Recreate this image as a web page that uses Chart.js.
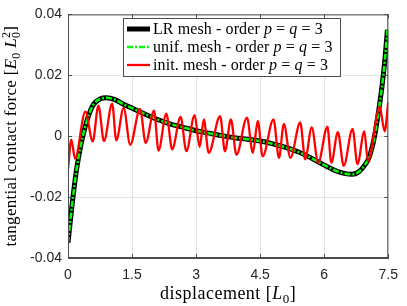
<!DOCTYPE html>
<html>
<head>
<meta charset="utf-8">
<script src="https://cdn.jsdelivr.net/npm/chart.js@4.4.1/dist/chart.umd.min.js"></script>
<style>
  html, body { margin: 0; padding: 0; background: #fff; }
</style>
</head>
<body>
<canvas id="chart" width="407" height="306"></canvas>
<script>
// tick positions and labels
const xTicks = [0, 1.5, 3, 4.5, 6, 7.5];
const xTickLabels = ['0', '1.5', '3', '4.5', '6', '7.5'];
const yTicks = [-0.04, -0.02, 0, 0.02, 0.04];
const yTickLabels = ['-0.04', '-0.02', '0', '0.02', '0.04'];

// LR mesh (smooth black curve)
const lrX = [0, 0.1, 0.2, 0.3, 0.4, 0.5, 0.6, 0.75, 0.9, 1.1, 1.3, 1.5, 1.8, 2.1, 2.4, 2.7, 3.0, 3.3, 3.6, 3.9,
             4.2, 4.5, 4.8, 5.1, 5.4, 5.7, 6.0, 6.3, 6.5, 6.65, 6.8, 6.95, 7.05, 7.15, 7.25, 7.35, 7.42, 7.48];
const lrY = [-0.035, -0.022, -0.011, -0.003, 0.003, 0.0075, 0.0105, 0.0122, 0.0126, 0.012, 0.0105, 0.0092,
             0.0073, 0.0055, 0.004, 0.0029, 0.0018, 0.001, 0.0002, -0.0005, -0.001, -0.0016, -0.0025, -0.0037,
             -0.0052, -0.0072, -0.0095, -0.0115, -0.0123, -0.0125, -0.0118, -0.0095, -0.007, -0.002, 0.006,
             0.016, 0.025, 0.035];

// uniform mesh (green dash-dot, lies on the LR curve)
const unifX = [0, 0.1, 0.2, 0.3, 0.4, 0.5, 0.6, 0.75, 0.9, 1.1, 1.3, 1.5, 1.8, 2.1, 2.4, 2.7, 3.0, 3.3, 3.6, 3.9,
               4.2, 4.5, 4.8, 5.1, 5.4, 5.7, 6.0, 6.3, 6.5, 6.65, 6.8, 6.95, 7.05, 7.15, 7.25, 7.35, 7.42, 7.48];
const unifY = [-0.035, -0.022, -0.011, -0.003, 0.003, 0.0075, 0.0105, 0.0122, 0.0126, 0.012, 0.0105, 0.0092,
               0.0073, 0.0055, 0.004, 0.0029, 0.0018, 0.001, 0.0002, -0.0005, -0.001, -0.0016, -0.0025, -0.0037,
               -0.0052, -0.0072, -0.0095, -0.0115, -0.0123, -0.0125, -0.0118, -0.0095, -0.007, -0.002, 0.006,
               0.016, 0.025, 0.035];

// initial mesh (oscillating red curve), peaks and troughs
const initX = [0, 0.078, 0.165, 0.407, 0.579, 0.712, 0.843, 1.034, 1.131, 1.303, 1.457, 1.687, 1.82, 2.015,
               2.119, 2.302, 2.44, 2.636, 2.773, 2.964, 3.084, 3.18, 3.295, 3.562, 3.676, 3.814, 3.945, 4.191,
               4.329, 4.444, 4.559, 4.812, 4.94, 5.055, 5.209, 5.439, 5.554, 5.708, 5.859, 6.075, 6.167, 6.319,
               6.457, 6.664, 6.779, 6.939, 7.024, 7.3, 7.415, 7.5];
const initY = [-0.0109, -0.0011, -0.0074, 0.0081, -0.0017, 0.01, -0.0016, 0.0107, -0.0014, 0.0093, -0.0028,
               0.009, -0.0022, 0.0084, -0.0047, 0.0074, -0.0043, 0.0063, -0.0049, 0.0069, -0.0035, 0.0055,
               -0.0055, 0.0066, -0.005, 0.0055, -0.0061, 0.0061, -0.0055, 0.005, -0.0066, 0.0055, -0.0071,
               0.004, -0.0071, 0.0045, -0.0076, 0.0029, -0.0087, 0.0031, -0.0087, 0.0013, -0.0097, 0.0024,
               -0.0092, 0.0016, -0.0082, 0.0096, 0.0016, 0.0113];

const seriesLabels = [
  [['LR mesh - order ', ''], ['p', 'i'], [' = ', ''], ['q', 'i'], [' = 3', '']],
  [['unif. mesh - order ', ''], ['p', 'i'], [' = ', ''], ['q', 'i'], [' = 3', '']],
  [['init. mesh - order ', ''], ['p', 'i'], [' = ', ''], ['q', 'i'], [' = 3', '']]
];
const xTitle = [['displacement [', ''], ['L', 'i'], ['0', 'sub'], [']', '']];
const yTitle = [['tangential contact force [', ''], ['E', 'i'], ['0', 'sub'], [' ', ''], ['L', 'i'], ['0', 'subsup', '2'], [']', '']];

const SERIF = '"Liberation Serif", "DejaVu Serif", serif';
const SANS = '"Liberation Sans", Arial, sans-serif';

function pts(xs, ys) {
  return xs.map((x, i) => ({ x: x, y: ys[i] }));
}

// draws a run of text pieces with italics, subscripts and superscripts
function setFont(ctx, p, size) {
  if (p[1] === 'sub' || p[1] === 'subsup') ctx.font = Math.round(size * 0.7) + 'px ' + SERIF;
  else ctx.font = (p[1] === 'i' ? 'italic ' : '') + size + 'px ' + SERIF;
}

function pieceWidth(ctx, p, size) {
  setFont(ctx, p, size);
  let w = ctx.measureText(p[0]).width;
  if (p[2]) w = Math.max(w, ctx.measureText(p[2]).width);
  return w;
}

function drawRich(ctx, parts, x, y, size, align, spacing) {
  ctx.letterSpacing = (spacing || 0) + 'px';
  let total = 0;
  parts.forEach(p => { total += pieceWidth(ctx, p, size); });
  let cx = align === 'center' ? x - total / 2 : x;
  ctx.textAlign = 'left';
  ctx.textBaseline = 'alphabetic';
  parts.forEach(p => {
    const w = pieceWidth(ctx, p, size);
    if (p[1] === 'sub' || p[1] === 'subsup') {
      ctx.fillText(p[0], cx, y + size * 0.22);
      if (p[2]) ctx.fillText(p[2], cx, y - size * 0.38);
    } else {
      ctx.fillText(p[0], cx, y);
    }
    cx += w;
  });
  ctx.letterSpacing = '0px';
}

const decorations = {
  id: 'decorations',
  afterDraw(chart) {
    const ctx = chart.ctx;
    const a = chart.chartArea;
    const xs = chart.scales.x, ys = chart.scales.y;
    ctx.save();

    // box and inward ticks
    ctx.strokeStyle = '#4d4d4d';
    ctx.lineWidth = 1;
    ctx.strokeRect(a.left + 0.5, a.top + 0.5, a.right - a.left - 1, a.bottom - a.top - 1);
    ctx.beginPath();
    xTicks.forEach(v => {
      const px = Math.round(xs.getPixelForValue(v)) + 0.5;
      ctx.moveTo(px, a.bottom); ctx.lineTo(px, a.bottom - 4);
      ctx.moveTo(px, a.top); ctx.lineTo(px, a.top + 4);
    });
    yTicks.forEach(v => {
      const py = Math.round(ys.getPixelForValue(v)) + 0.5;
      ctx.moveTo(a.left, py); ctx.lineTo(a.left + 4, py);
      ctx.moveTo(a.right, py); ctx.lineTo(a.right - 4, py);
    });
    ctx.stroke();

    // legend
    const lx = 123, ly = 18, lw = 217, lh = 58;
    ctx.fillStyle = '#fff';
    ctx.fillRect(lx, ly, lw, lh);
    ctx.strokeStyle = '#4d4d4d';
    ctx.strokeRect(lx + 0.5, ly + 0.5, lw, lh);
    const ds = chart.data.datasets;
    [0, 1, 2].forEach(i => {
      const d = ds.find(s => s.legendIndex === i);
      const ry = ly + 11 + i * 18;
      ctx.strokeStyle = d.borderColor;
      ctx.lineWidth = d.borderWidth;
      ctx.setLineDash(d.borderDash || []);
      ctx.beginPath();
      ctx.moveTo(lx + 4, ry);
      ctx.lineTo(lx + 27, ry);
      ctx.stroke();
      ctx.setLineDash([]);
      ctx.fillStyle = '#000';
      drawRich(ctx, seriesLabels[i], lx + 30, ry + 5, 16, 'left', 0.1);
    });

    // axis titles
    ctx.fillStyle = '#000';
    drawRich(ctx, xTitle, (a.left + a.right) / 2, 299, 18, 'center', 0.5);
    ctx.translate(16, (a.top + a.bottom) / 2);
    ctx.rotate(-Math.PI / 2);
    drawRich(ctx, yTitle, 0, 0, 17, 'center', 0.3);
    ctx.restore();
  }
};

new Chart(document.getElementById('chart'), {
  type: 'line',
  data: {
    datasets: [
      {
        label: 'LR mesh - order p = q = 3',
        legendIndex: 0,
        data: pts(lrX, lrY),
        borderColor: '#000000',
        borderWidth: 5,
        cubicInterpolationMode: 'monotone',
        order: 2
      },
      {
        label: 'unif. mesh - order p = q = 3',
        legendIndex: 1,
        data: pts(unifX, unifY),
        borderColor: '#00ff00',
        borderWidth: 2.5,
        borderDash: [6, 2, 2, 2],
        cubicInterpolationMode: 'monotone',
        order: 1
      },
      {
        label: 'init. mesh - order p = q = 3',
        legendIndex: 2,
        data: pts(initX, initY),
        borderColor: '#ff0000',
        borderWidth: 2.3,
        cubicInterpolationMode: 'monotone',
        order: 0
      }
    ]
  },
  options: {
    responsive: false,
    animation: false,
    layout: { padding: { top: 5, right: 12, left: 0, bottom: 0 } },
    elements: { point: { radius: 0 } },
    plugins: { legend: { display: false }, tooltip: { enabled: false } },
    scales: {
      x: {
        type: 'linear',
        min: 0,
        max: 7.5,
        afterBuildTicks: s => { s.ticks = xTicks.map(v => ({ value: v })); },
        afterFit: s => { s.height = 48; },
        ticks: {
          callback: (v, i) => xTickLabels[i],
          font: { family: SANS, size: 14 },
          color: '#262626',
          padding: 9,
          maxRotation: 0
        },
        grid: { color: '#e3e3e3', drawTicks: false },
        border: { color: '#4d4d4d' }
      },
      y: {
        min: -0.04,
        max: 0.04,
        afterBuildTicks: s => { s.ticks = yTicks.map(v => ({ value: v })); },
        afterFit: s => { s.width = 68; },
        ticks: {
          callback: (v, i) => yTickLabels[i],
          font: { family: SANS, size: 14 },
          color: '#262626',
          padding: 6
        },
        grid: { color: '#e3e3e3', drawTicks: false },
        border: { color: '#4d4d4d' }
      }
    }
  },
  plugins: [decorations]
});
</script>
</body>
</html>
